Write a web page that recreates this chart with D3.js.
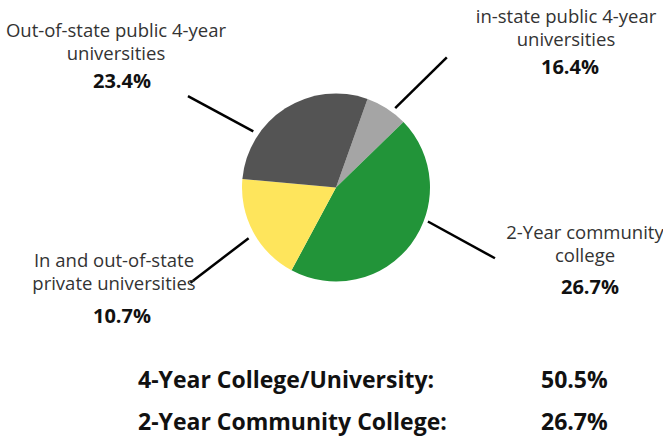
<!DOCTYPE html>
<html>
<head>
<meta charset="utf-8">
<title>College destinations</title>
<script src="https://cdn.jsdelivr.net/npm/d3@7"></script>
<style>
  body { margin: 0; background: #fff; }
  text { font-family: "Open Sans", sans-serif; }
</style>
</head>
<body>
<div id="chart"></div>
<script>
// data
var categories = ["in-state public 4-year universities", "2-Year community college",
                  "In and out-of-state private universities", "Out-of-state public 4-year universities"];
var sliceValues = [7.3, 45.1, 18.6, 29.0];          // as drawn in the pie
var labelValues = ["16.4%", "26.7%", "10.7%", "23.4%"]; // as printed next to it
var summaryNames = ["4-Year College/University:", "2-Year Community College:"];
var summaryValues = ["50.5%", "26.7%"];

// layout
var width = 663, height = 439;
var cx = 336, cy = 187.5, radius = 94;
var colors = ["#a5a5a5", "#229439", "#fee55c", "#545454"];
var labelLines = [
  ["in-state public 4-year", "universities"],
  ["2-Year community", "college"],
  ["In and out-of-state", "private universities"],
  ["Out-of-state public 4-year", "universities"]
];
// label x, first baseline y, value x, value baseline y
var labelPos = [
  {x: 566, y: 23, vx: 570, vy: 74},
  {x: 585, y: 239, vx: 590, vy: 294},
  {x: 114, y: 267, vx: 122, vy: 323},
  {x: 116, y: 37, vx: 122, vy: 88}
];
// leader lines: angle in degrees (clockwise from top), inner/outer radius
var leaders = [
  {a0: 36.7, a1: 40.4, r0: 99, r1: 171},
  {a0: 110.3, a1: 114, r0: 98, r1: 174},
  {a0: 239.9, a1: 236.8, r0: 101, r1: 174},
  {a0: 304.2, a1: 301.7, r0: 100, r1: 174}
];

var svg = d3.select("#chart").append("svg")
  .attr("width", width)
  .attr("height", height);

var start = 19.6 * Math.PI / 180;
var pie = d3.pie().sort(null).value(function(d) { return d; })
  .startAngle(start).endAngle(start + 2 * Math.PI);
var arc = d3.arc().innerRadius(0).outerRadius(radius);

var g = svg.append("g").attr("transform", "translate(" + cx + "," + cy + ")");
g.selectAll("path")
  .data(pie(sliceValues))
  .enter().append("path")
  .attr("d", arc)
  .attr("fill", function(d, i) { return colors[i]; });

// leader lines
var rad = Math.PI / 180;
g.selectAll("line.leader")
  .data(leaders)
  .enter().append("line")
  .attr("class", "leader")
  .attr("x1", function(d) { return d3.pointRadial(d.a0 * rad, d.r0)[0]; })
  .attr("y1", function(d) { return d3.pointRadial(d.a0 * rad, d.r0)[1]; })
  .attr("x2", function(d) { return d3.pointRadial(d.a1 * rad, d.r1)[0]; })
  .attr("y2", function(d) { return d3.pointRadial(d.a1 * rad, d.r1)[1]; })
  .attr("stroke", "#000")
  .attr("stroke-width", 2.5);

// labels
categories.forEach(function(c, i) {
  var p = labelPos[i];
  var t = svg.append("text")
    .attr("text-anchor", "middle")
    .attr("font-size", 18.5)
    .attr("fill", "#333");
  labelLines[i].forEach(function(line, j) {
    t.append("tspan").attr("x", p.x).attr("y", p.y + j * 23).text(line);
  });
  svg.append("text")
    .attr("x", p.vx).attr("y", p.vy)
    .attr("text-anchor", "middle")
    .attr("font-size", 20)
    .attr("font-weight", 700)
    .attr("fill", "#111")
    .text(labelValues[i]);
});

// summary rows
summaryNames.forEach(function(n, i) {
  svg.append("text")
    .attr("x", 138).attr("y", 388 + i * 42)
    .attr("font-size", 23).attr("font-weight", 700).attr("fill", "#111")
    .text(n);
  svg.append("text")
    .attr("x", 541).attr("y", 388 + i * 42)
    .attr("font-size", 23).attr("font-weight", 700).attr("fill", "#111")
    .text(summaryValues[i]);
});
</script>
</body>
</html>
